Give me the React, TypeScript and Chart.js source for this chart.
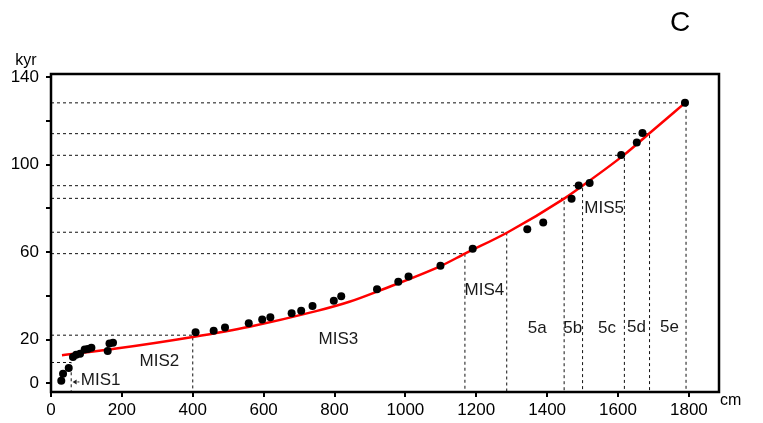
import React, { useEffect, useRef } from 'react';
import { Chart, registerables } from 'chart.js';

Chart.register(...registerables);

// Age model curve (depth cm -> age kyr)
const curveX = [31, 184, 400, 560, 748, 842, 927, 1099, 1168, 1289, 1448, 1500, 1618, 1688, 1790];
const curveY = [12.8, 15.9, 21.2, 25.9, 33.0, 37.3, 42.4, 53.6, 59.3, 69.1, 84.5, 90.4, 104.6, 114.3, 128.4];

// Dated samples
const sampleX = [29, 34, 50, 62, 71, 82, 95, 104, 114, 160, 165, 175, 408, 459, 491, 558, 596, 619, 679, 706, 738, 798, 819, 920, 980, 1009, 1099, 1190, 1344, 1389, 1469, 1489, 1520, 1609, 1653, 1669, 1789];
const sampleY = [1.1, 4.4, 7.0, 12.0, 13.0, 13.5, 15.5, 15.7, 16.2, 14.8, 18.2, 18.5, 23.3, 24.0, 25.5, 27.4, 29.2, 30.2, 32.0, 33.2, 35.3, 37.8, 39.8, 43.0, 46.5, 48.8, 53.8, 61.5, 70.5, 73.5, 84.4, 90.5, 91.6, 104.4, 110.2, 114.5, 128.4];

// Stage boundaries (depth cm, age kyr)
const boundaryX = [57, 400, 1168, 1286, 1448, 1500, 1618, 1689, 1792];
const boundaryY = [9.5, 22.0, 59.3, 69.1, 84.6, 90.4, 104.3, 114.2, 128.3];

// Stage labels
const stageLabels = ['MIS1', 'MIS2', 'MIS3', 'MIS4', 'MIS5', '5a', '5b', '5c', '5d', '5e'];
const stageX = [140, 306, 811, 1223, 1561, 1372, 1472, 1569, 1652, 1745];
const stageY = [1.4, 10, 20.2, 42.7, 80.1, 25.1, 25.1, 25.1, 25.8, 25.8];

const yLabeledTicks = [0, 20, 60, 100, 140];
const X_MIN = 0, X_MAX = 1885, X_STEP = 200;
const Y_MIN = -4, Y_MAX = 141.5, Y_STEP = 20;

const FONT = '"Liberation Sans", Arial, Helvetica, sans-serif';

export default function App() {
  const ref = useRef<HTMLCanvasElement>(null);

  useEffect(() => {
    const canvas = ref.current;
    if (!canvas) return;

    const boundaryDatasets = boundaryX.map((bx, i) => ({
      type: 'line' as const,
      data: [
        { x: X_MIN, y: boundaryY[i] },
        { x: bx, y: boundaryY[i] },
        { x: bx, y: Y_MIN },
      ],
      borderColor: '#111',
      borderWidth: 1,
      borderDash: [3, 3],
      pointRadius: 0,
      fill: false,
      tension: 0,
      order: 3,
    }));

    const overlay = {
      id: 'overlay',
      afterDatasetsDraw(chart: any) {
        const { ctx, chartArea: a, scales } = chart;
        const xs = scales.x, ys = scales.y;
        ctx.save();
        // frame
        ctx.strokeStyle = '#000';
        ctx.lineWidth = 2.5;
        ctx.setLineDash([]);
        ctx.strokeRect(a.left, a.top, a.right - a.left, a.bottom - a.top);
        // stage labels
        ctx.fillStyle = '#1a1a1a';
        ctx.font = `17px ${FONT}`;
        ctx.textAlign = 'center';
        ctx.textBaseline = 'middle';
        stageLabels.forEach((t, i) => {
          ctx.fillText(t, xs.getPixelForValue(stageX[i]), ys.getPixelForValue(stageY[i]));
        });
        // little arrow pointing to MIS1 boundary
        const ax0 = xs.getPixelForValue(80), ax1 = xs.getPixelForValue(61);
        const ay = ys.getPixelForValue(0.6);
        ctx.strokeStyle = '#222';
        ctx.lineWidth = 1;
        ctx.setLineDash([2, 2]);
        ctx.beginPath();
        ctx.moveTo(ax0, ay);
        ctx.lineTo(ax1 + 3, ay);
        ctx.stroke();
        ctx.setLineDash([]);
        ctx.fillStyle = '#222';
        ctx.beginPath();
        ctx.moveTo(ax1, ay);
        ctx.lineTo(ax1 + 4, ay - 2.5);
        ctx.lineTo(ax1 + 4, ay + 2.5);
        ctx.closePath();
        ctx.fill();
        // axis units and panel letter
        ctx.fillStyle = '#000';
        ctx.font = `16px ${FONT}`;
        ctx.textAlign = 'center';
        ctx.fillText('kyr', 26, 61);
        ctx.textAlign = 'left';
        ctx.fillText('cm', 720, 401);
        ctx.font = `28px ${FONT}`;
        ctx.textAlign = 'center';
        ctx.fillText('C', 680, 23);
        ctx.restore();
      },
    };

    const chart = new Chart(canvas, {
      type: 'scatter',
      data: {
        datasets: [
          {
            type: 'scatter' as const,
            data: sampleX.map((x, i) => ({ x, y: sampleY[i] })),
            backgroundColor: '#000',
            borderColor: '#000',
            borderWidth: 0,
            pointRadius: 4,
            order: 1,
          },
          {
            type: 'line' as const,
            data: curveX.map((x, i) => ({ x, y: curveY[i] })),
            borderColor: '#ff0000',
            borderWidth: 2.5,
            pointRadius: 0,
            fill: false,
            cubicInterpolationMode: 'monotone' as const,
            order: 2,
          },
          ...boundaryDatasets,
        ] as any,
      },
      options: {
        animation: false,
        responsive: false,
        events: [],
        layout: { padding: { top: 74, right: 44, left: 0, bottom: 0 } },
        plugins: {
          legend: { display: false },
          tooltip: { enabled: false },
        },
        scales: {
          x: {
            type: 'linear',
            min: X_MIN,
            max: X_MAX,
            afterFit: (s: any) => { s.height = 31; },
            ticks: {
              stepSize: X_STEP,
              includeBounds: false,
              color: '#000',
              font: { family: FONT, size: 17 },
              padding: 3,
              maxRotation: 0,
              autoSkip: false,
              callback: (v: any) => String(v),
            },
            grid: { display: true, drawOnChartArea: false, drawTicks: true, tickLength: 5, color: '#000', lineWidth: 2 },
            border: { display: false },
          },
          y: {
            type: 'linear',
            min: Y_MIN,
            max: Y_MAX,
            afterFit: (s: any) => { s.width = 51; },
            ticks: {
              stepSize: Y_STEP,
              includeBounds: false,
              color: '#000',
              font: { family: FONT, size: 17 },
              padding: 7,
              autoSkip: false,
              callback: (v: any) => (yLabeledTicks.includes(Number(v)) ? String(v) : ''),
            },
            grid: { display: true, drawOnChartArea: false, drawTicks: true, tickLength: 5, color: '#000', lineWidth: 2 },
            border: { display: false },
          },
        },
      },
      plugins: [overlay],
    } as any);

    return () => chart.destroy();
  }, []);

  return (
    <div style={{ position: 'fixed', left: 0, top: 0, width: 763, height: 423, background: '#fff' }}>
      <canvas ref={ref} width={763} height={423} style={{ display: 'block' }} />
    </div>
  );
}
